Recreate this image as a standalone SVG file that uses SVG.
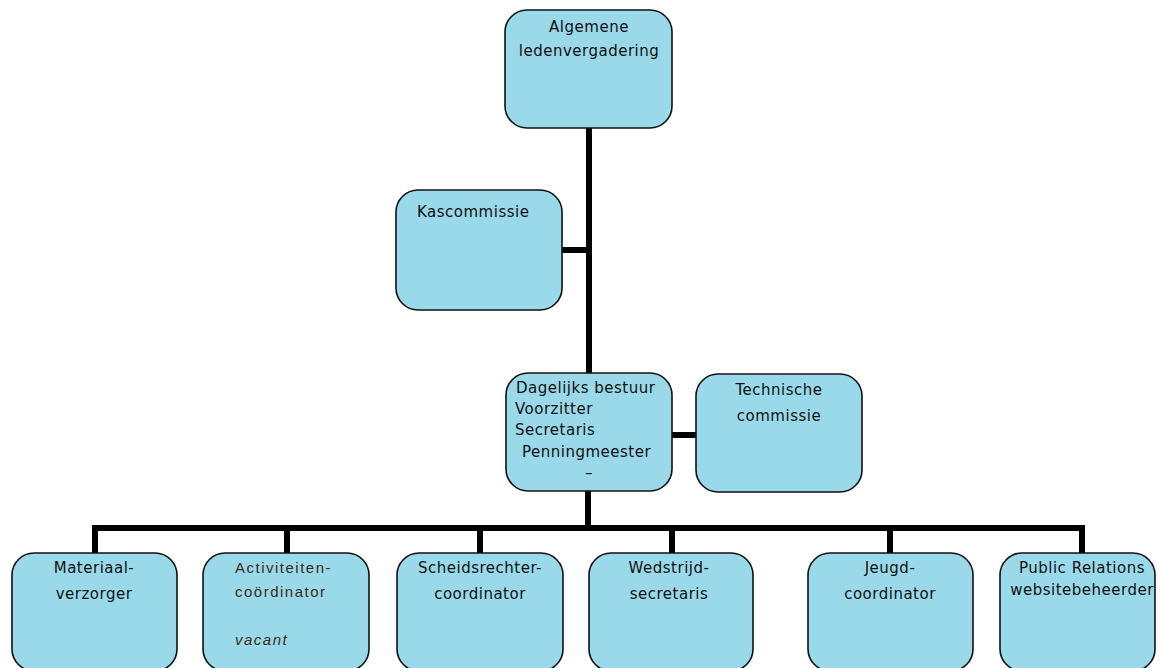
<svg xmlns="http://www.w3.org/2000/svg" width="1160" height="668" viewBox="0 0 1160 668">
<style>
.box{fill:#99D9EA;stroke:#111;stroke-width:1.6}
.t{font-family:"DejaVu Sans",sans-serif;font-size:15px;letter-spacing:0.5px;fill:#111}
.c{text-anchor:middle}
.a{font-family:"Liberation Sans",Arial,sans-serif;font-size:15px;fill:#3a2b1c;letter-spacing:1.5px}
.con{stroke:#000;stroke-width:6;fill:none}
</style>
<rect width="1160" height="668" fill="#fff"/>
<g id="connectors">
<line class="con" x1="589" y1="128" x2="589" y2="373"/>
<line class="con" x1="562" y1="250" x2="589" y2="250"/>
<line class="con" x1="672" y1="435" x2="696" y2="435"/>
<line class="con" x1="588" y1="491" x2="588" y2="528"/>
<polyline class="con" points="95,553 95,528 1082,528 1082,553"/>
<line class="con" x1="287" y1="528" x2="287" y2="553"/>
<line class="con" x1="480" y1="528" x2="480" y2="553"/>
<line class="con" x1="672" y1="528" x2="672" y2="553"/>
<line class="con" x1="890" y1="528" x2="890" y2="553"/>
</g>
<g id="algemene">
<rect class="box" x="505" y="10" width="167" height="118" rx="22"/>
<text class="t c" x="589" y="32">Algemene</text>
<text class="t c" x="589" y="56">ledenvergadering</text>
</g>
<g id="kascommissie">
<rect class="box" x="396" y="190" width="166" height="120" rx="22"/>
<text class="t" x="417" y="217">Kascommissie</text>
</g>
<g id="dagelijks">
<rect class="box" x="506" y="373" width="166" height="118" rx="22"/>
<text class="t" x="516" y="393">Dagelijks bestuur</text>
<text class="t" x="515" y="414">Voorzitter</text>
<text class="t" x="515" y="435">Secretaris</text>
<text class="t" x="522" y="457">Penningmeester</text>
<text class="t c" x="589" y="478">–</text>
</g>
<g id="technische">
<rect class="box" x="696" y="374" width="166" height="118" rx="22"/>
<text class="t c" x="779" y="395">Technische</text>
<text class="t c" x="779" y="421">commissie</text>
</g>
<g id="materiaal">
<rect class="box" x="12" y="553" width="165" height="118" rx="22"/>
<text class="t c" x="94" y="573">Materiaal-</text>
<text class="t c" x="94" y="599">verzorger</text>
</g>
<g id="activiteiten">
<rect class="box" x="203" y="553" width="166" height="118" rx="22"/>
<text class="a" x="235" y="573">Activiteiten-</text>
<text class="a" x="235" y="597">coördinator</text>
<text class="a" x="235" y="645" font-style="italic">vacant</text>
</g>
<g id="scheidsrechter">
<rect class="box" x="397" y="553" width="166" height="118" rx="22"/>
<text class="t c" x="480" y="573">Scheidsrechter-</text>
<text class="t c" x="480" y="599">coordinator</text>
</g>
<g id="wedstrijd">
<rect class="box" x="589" y="553" width="164" height="118" rx="22"/>
<text class="t c" x="669" y="573">Wedstrijd-</text>
<text class="t c" x="669" y="599">secretaris</text>
</g>
<g id="jeugd">
<rect class="box" x="808" y="553" width="165" height="118" rx="22"/>
<text class="t c" x="890" y="573">Jeugd-</text>
<text class="t c" x="890" y="599">coordinator</text>
</g>
<g id="pr">
<rect class="box" x="1000" y="553" width="155" height="118" rx="22"/>
<text class="t c" x="1082" y="573">Public Relations</text>
<text class="t c" x="1082" y="595">websitebeheerder</text>
</g>
</svg>
